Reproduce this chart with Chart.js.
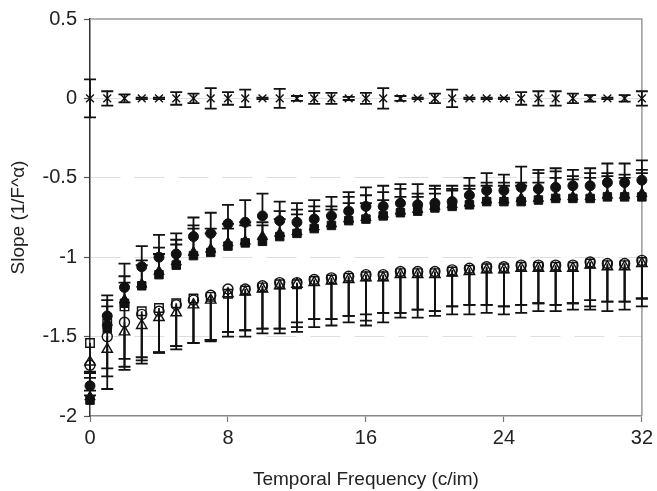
<!DOCTYPE html>
<html>
<head>
<meta charset="utf-8">
<script src="https://cdn.jsdelivr.net/npm/chart.js@4"></script>
<style>
  html, body { margin: 0; padding: 0; background: #fff; }
  #wrap { width: 657px; height: 491px; }
</style>
</head>
<body>
<div id="wrap"><canvas id="c" width="657" height="491"></canvas></div>
<script>
// ---- data ----
const freq = [0,1,2,3,4,5,6,7,8,9,10,11,12,13,14,15,16,17,18,19,20,21,22,23,24,25,26,27,28,29,30,31,32];
const xTicks = [0, 8, 16, 24, 32];
const yTicks = [0.5, 0, -0.5, -1, -1.5, -2];
const yTickLabels = ['0.5', '0', '-0.5', '-1', '-1.5', '-2'];

// top series (crosses) with symmetric error
const crossVals = [0,0,0,0,0,0,0,0,0,0,0,0,0,0,0,0,0,0,0,0,0,0,0,0,0,0,0,0,0,0,0,0,0];
const crossErr  = [0.12,0.045,0.025,0.005,0.005,0.04,0.03,0.065,0.04,0.055,0.005,0.06,0.015,0.035,0.035,0.01,0.035,0.065,0.015,0.005,0.03,0.055,0.005,0.005,0.005,0.04,0.045,0.045,0.03,0.02,0.005,0.02,0.045];

// filled symbols, error bars upward
const filledCircle = [-1.81,-1.37,-1.19,-1.06,-1.00,-0.98,-0.87,-0.85,-0.79,-0.78,-0.74,-0.77,-0.78,-0.76,-0.74,-0.71,-0.68,-0.68,-0.66,-0.67,-0.66,-0.65,-0.61,-0.58,-0.58,-0.56,-0.57,-0.56,-0.55,-0.55,-0.53,-0.53,-0.515];
const filledCircleErr = [0.08,0.13,0.15,0.13,0.14,0.13,0.12,0.13,0.12,0.14,0.14,0.12,0.12,0.12,0.12,0.12,0.12,0.13,0.12,0.13,0.11,0.10,0.11,0.11,0.10,0.13,0.12,0.12,0.10,0.11,0.12,0.12,0.125];
const filledTriangle = [-1.88,-1.41,-1.27,-1.17,-1.09,-1.03,-0.97,-0.95,-0.91,-0.90,-0.87,-0.85,-0.84,-0.81,-0.79,-0.76,-0.75,-0.73,-0.71,-0.70,-0.68,-0.67,-0.66,-0.64,-0.64,-0.63,-0.63,-0.62,-0.62,-0.62,-0.61,-0.61,-0.60];
const filledTriangleErr = [0.04,0.14,0.15,0.15,0.15,0.14,0.17,0.13,0.12,0.12,0.09,0.14,0.14,0.13,0.11,0.14,0.14,0.14,0.14,0.10,0.11,0.10,0.11,0.11,0.11,0.10,0.16,0.16,0.13,0.15,0.14,0.13,0.15];
const filledSquare = [-1.90,-1.45,-1.29,-1.18,-1.11,-1.05,-0.99,-0.97,-0.93,-0.91,-0.90,-0.87,-0.85,-0.82,-0.80,-0.77,-0.76,-0.74,-0.72,-0.71,-0.69,-0.68,-0.67,-0.65,-0.65,-0.65,-0.64,-0.63,-0.63,-0.63,-0.62,-0.62,-0.62];
const filledSquareErr = [0.03,0.14,0.13,0.13,0.13,0.13,0.17,0.12,0.11,0.11,0.10,0.11,0.12,0.11,0.10,0.11,0.10,0.10,0.10,0.09,0.09,0.10,0.10,0.10,0.10,0.10,0.11,0.13,0.12,0.13,0.13,0.12,0.15];

// open symbols, error bars downward
const openSquare = [-1.54,-1.42,-1.31,-1.34,-1.32,-1.29,-1.26,-1.25,-1.23,-1.21,-1.19,-1.17,-1.17,-1.15,-1.14,-1.13,-1.12,-1.12,-1.10,-1.10,-1.10,-1.09,-1.08,-1.07,-1.07,-1.06,-1.06,-1.06,-1.06,-1.04,-1.05,-1.05,-1.03];
const openSquareErr = [0.22,0.41,0.40,0.33,0.28,0.29,0.28,0.28,0.27,0.29,0.29,0.31,0.30,0.29,0.29,0.28,0.31,0.29,0.28,0.28,0.27,0.27,0.28,0.28,0.29,0.29,0.28,0.28,0.27,0.29,0.29,0.28,0.28];
const openCircle = [-1.68,-1.50,-1.41,-1.36,-1.34,-1.30,-1.27,-1.24,-1.20,-1.20,-1.18,-1.16,-1.16,-1.14,-1.13,-1.12,-1.11,-1.11,-1.09,-1.09,-1.09,-1.08,-1.07,-1.06,-1.06,-1.05,-1.05,-1.05,-1.05,-1.03,-1.04,-1.04,-1.02];
const openCircleErr = [0.05,0.25,0.28,0.29,0.26,0.26,0.27,0.28,0.27,0.26,0.27,0.29,0.28,0.25,0.26,0.25,0.29,0.24,0.26,0.24,0.25,0.23,0.23,0.24,0.25,0.25,0.24,0.25,0.24,0.28,0.24,0.24,0.24];
const openTriangle = [-1.66,-1.58,-1.47,-1.43,-1.38,-1.35,-1.30,-1.27,-1.23,-1.22,-1.20,-1.18,-1.17,-1.16,-1.15,-1.14,-1.13,-1.13,-1.11,-1.11,-1.11,-1.10,-1.09,-1.08,-1.08,-1.07,-1.07,-1.07,-1.07,-1.05,-1.06,-1.06,-1.04];
const openTriangleErr = [0.06,0.12,0.17,0.20,0.22,0.21,0.24,0.25,0.24,0.24,0.25,0.27,0.24,0.23,0.24,0.23,0.23,0.22,0.24,0.22,0.23,0.21,0.21,0.22,0.23,0.23,0.22,0.23,0.22,0.22,0.22,0.22,0.22];

// ---- build datasets ----
const INK = '#111';
function pts(vals) { return freq.map((f, i) => ({ x: f, y: vals[i] })); }
function ds(label, vals, style, radius, filled, plus, minus) {
  return {
    label, data: pts(vals), pointStyle: style, pointRadius: radius, pointHoverRadius: radius,
    backgroundColor: filled ? INK : 'rgba(0,0,0,0)', borderColor: INK,
    pointBorderWidth: filled ? 1 : 1.4, showLine: false, clip: false,
    errPlus: plus, errMinus: minus
  };
}
const datasets = [
  ds('cross', crossVals, 'crossRot', 5.5, false, crossErr, crossErr),
  ds('filled circle', filledCircle, 'circle', 5, true, filledCircleErr, null),
  ds('filled triangle', filledTriangle, 'triangle', 6, true, filledTriangleErr, null),
  ds('filled square', filledSquare, 'rect', 6, true, filledSquareErr, null),
  ds('open circle', openCircle, 'circle', 5, false, null, openCircleErr),
  ds('open square', openSquare, 'rect', 6, false, null, openSquareErr),
  ds('open triangle', openTriangle, 'triangle', 6, false, null, openTriangleErr)
];

const errorBars = {
  id: 'errorBars',
  beforeDatasetsDraw(chart) {
    const ctx = chart.ctx, xs = chart.scales.x, ys = chart.scales.y;
    ctx.save();
    ctx.strokeStyle = INK;
    ctx.lineWidth = 1.8;
    const cap = 6;
    chart.data.datasets.forEach(d => {
      d.data.forEach((p, j) => {
        const px = xs.getPixelForValue(p.x);
        const py = ys.getPixelForValue(p.y);
        const ends = [];
        if (d.errPlus) ends.push(ys.getPixelForValue(p.y + d.errPlus[j]));
        if (d.errMinus) ends.push(ys.getPixelForValue(p.y - d.errMinus[j]));
        ends.forEach(e => {
          ctx.beginPath();
          ctx.moveTo(px, py); ctx.lineTo(px, e);
          ctx.moveTo(px - cap, e); ctx.lineTo(px + cap, e);
          ctx.stroke();
        });
      });
    });
    ctx.restore();
  }
};

const frame = {
  id: 'frame',
  beforeDatasetsDraw(chart) {
    const { ctx, chartArea: a } = chart;
    ctx.save();
    ctx.strokeStyle = '#9a9a9a';
    ctx.lineWidth = 1.5;
    ctx.beginPath();
    ctx.moveTo(a.left, a.top); ctx.lineTo(a.right, a.top); ctx.lineTo(a.right, a.bottom);
    ctx.stroke();
    ctx.restore();
  }
};

const FONT = "'Liberation Sans', Arial, sans-serif";
new Chart(document.getElementById('c'), {
  type: 'scatter',
  data: { datasets },
  options: {
    responsive: false,
    animation: false,
    events: [],
    layout: { padding: { top: 18, right: 15, left: 0, bottom: 0 } },
    plugins: { legend: { display: false }, tooltip: { enabled: false } },
    scales: {
      x: {
        type: 'linear', min: 0, max: 32,
        afterFit(s) { s.height = 75; },
        afterBuildTicks(s) { s.ticks = xTicks.map(v => ({ value: v })); },
        ticks: { font: { family: FONT, size: 20 }, color: '#222', padding: 4, maxRotation: 0,
                 callback: v => String(v) },
        grid: { drawOnChartArea: false, drawTicks: true, tickLength: 6, tickColor: '#777', tickWidth: 1.2 },
        border: { display: true, color: '#888', width: 1.5 },
        title: { display: true, text: 'Temporal Frequency (c/im)', font: { family: FONT, size: 19 }, color: '#222', padding: { top: 0, bottom: 0 } }
      },
      y: {
        type: 'linear', min: -2, max: 0.5,
        afterFit(s) { s.width = 90; },
        afterBuildTicks(s) { s.ticks = yTicks.map(v => ({ value: v })); },
        ticks: { font: { family: FONT, size: 20 }, color: '#222', padding: 7,
                 callback: v => yTickLabels[yTicks.indexOf(v)] },
        grid: {
          drawOnChartArea: true, drawTicks: true, tickLength: 6, tickWidth: 1.2, lineWidth: 1,
          color: c => (c.tick && (c.tick.value === 0.5 || c.tick.value === -2)) ? 'rgba(0,0,0,0)' : '#dedede',
          tickColor: '#555'
        },
        border: { display: true, color: '#333', width: 1.5, dash: [30, 14] },
        title: { display: true, text: 'Slope (1/F^α)', font: { family: FONT, size: 19 }, color: '#222', padding: { top: 7, bottom: 0 } }
      }
    }
  },
  plugins: [frame, errorBars]
});
</script>
</body>
</html>
